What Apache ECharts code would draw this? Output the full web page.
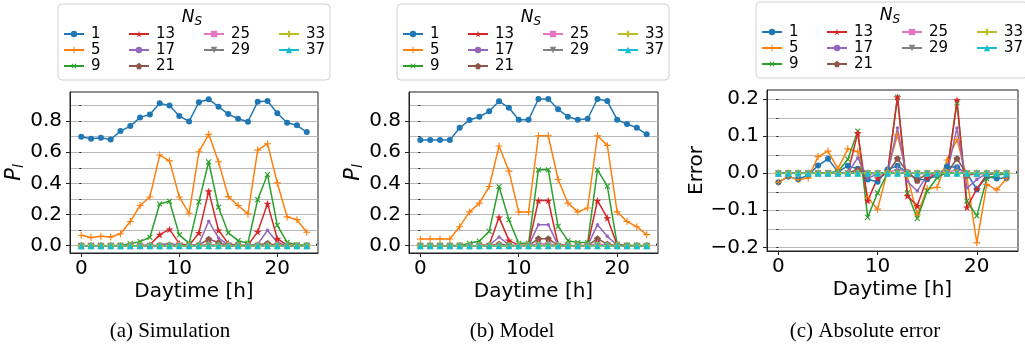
<!DOCTYPE html>
<html lang="en">
<head>
<meta charset="UTF-8">
<title>Blocking probability per daytime</title>
<style>
    html, body { margin: 0; padding: 0; background: #fff; }
    #main { width: 1025px; height: 349px; }
</style>
</head>
<body>
<div id="main"></div>
<script src="https://cdn.jsdelivr.net/npm/echarts@6/dist/echarts.min.js"></script>
<script>
    // x values (hour of the day) and the legend entries
    const hours = [0, 1, 2, 3, 4, 5, 6, 7, 8, 9, 10, 11, 12, 13, 14, 15, 16, 17, 18, 19, 20, 21, 22, 23]
    const nsLabels = ['1', '5', '9', '13', '17', '21', '25', '29', '33', '37']

    // (a) simulation
    const simNs1 = [0.700, 0.687, 0.693, 0.682, 0.736, 0.768, 0.824, 0.843, 0.914, 0.901, 0.833, 0.798, 0.921, 0.940, 0.893, 0.845, 0.815, 0.796, 0.925, 0.929, 0.850, 0.790, 0.773, 0.730]
    const simNs5 = [0.067, 0.052, 0.060, 0.056, 0.077, 0.155, 0.258, 0.313, 0.582, 0.545, 0.313, 0.208, 0.603, 0.715, 0.539, 0.315, 0.258, 0.204, 0.614, 0.655, 0.403, 0.185, 0.167, 0.086]
    const simNs9 = [0, 0, 0, 0, 0.002, 0.013, 0.026, 0.054, 0.268, 0.285, 0.069, 0.015, 0.281, 0.539, 0.247, 0.082, 0.032, 0.017, 0.296, 0.457, 0.131, 0.021, 0.006, 0.002]
    const simNs13 = [0, 0, 0, 0, 0, 0, 0.001, 0.004, 0.071, 0.105, 0.013, 0.001, 0.082, 0.350, 0.099, 0.013, 0.002, 0.002, 0.090, 0.270, 0.045, 0.004, 0, 0]
    const simNs17 = [0, 0, 0, 0, 0, 0, 0, 0, 0.005, 0.015, 0.002, 0, 0.010, 0.157, 0.050, 0.004, 0, 0, 0.010, 0.099, 0.020, 0, 0, 0]
    const simNs21 = [0, 0, 0, 0, 0, 0, 0, 0, 0, 0.003, 0, 0, 0.005, 0.042, 0.020, 0, 0, 0, 0.005, 0.015, 0.002, 0, 0, 0]
    const simNs25 = [0, 0, 0, 0, 0, 0, 0, 0, 0, 0, 0, 0, 0, 0.010, 0.002, 0, 0, 0, 0, 0.003, 0, 0, 0, 0]
    const simNs29 = [0, 0, 0, 0, 0, 0, 0, 0, 0, 0, 0, 0, 0, 0.002, 0, 0, 0, 0, 0, 0, 0, 0, 0, 0]
    const simNs33 = [0, 0, 0, 0, 0, 0, 0, 0, 0, 0, 0, 0, 0, 0, 0, 0, 0, 0, 0, 0, 0, 0, 0, 0]
    const simNs37 = [0, 0, 0, 0, 0, 0, 0, 0, 0, 0, 0, 0, 0, 0, 0, 0, 0, 0, 0, 0, 0, 0, 0, 0]

    // (b) model
    const modNs1 = [0.678, 0.678, 0.678, 0.678, 0.757, 0.807, 0.828, 0.863, 0.927, 0.886, 0.809, 0.809, 0.942, 0.942, 0.876, 0.828, 0.809, 0.815, 0.942, 0.929, 0.809, 0.781, 0.757, 0.715]
    const modNs5 = [0.043, 0.043, 0.043, 0.043, 0.122, 0.217, 0.273, 0.380, 0.640, 0.479, 0.217, 0.217, 0.706, 0.706, 0.425, 0.273, 0.217, 0.242, 0.706, 0.644, 0.217, 0.155, 0.122, 0.071]
    const modNs9 = [0, 0, 0, 0, 0.002, 0.015, 0.030, 0.092, 0.380, 0.167, 0.015, 0.015, 0.487, 0.487, 0.124, 0.032, 0.020, 0.020, 0.487, 0.382, 0.010, 0.002, 0.001, 0.001]
    const modNs13 = [0, 0, 0, 0, 0, 0, 0.001, 0.005, 0.182, 0.034, 0.002, 0.002, 0.290, 0.290, 0.006, 0.001, 0, 0.002, 0.290, 0.178, 0.005, 0, 0, 0]
    const modNs17 = [0, 0, 0, 0, 0, 0, 0, 0.001, 0.056, 0.005, 0, 0, 0.135, 0.135, 0.002, 0, 0, 0, 0.135, 0.060, 0.003, 0, 0, 0]
    const modNs21 = [0, 0, 0, 0, 0, 0, 0, 0, 0.010, 0.001, 0, 0, 0.045, 0.045, 0, 0, 0, 0, 0.045, 0.010, 0, 0, 0, 0]
    const modNs25 = [0, 0, 0, 0, 0, 0, 0, 0, 0.002, 0, 0, 0, 0.012, 0.012, 0, 0, 0, 0, 0.012, 0.002, 0, 0, 0, 0]
    const modNs29 = [0, 0, 0, 0, 0, 0, 0, 0, 0, 0, 0, 0, 0.003, 0.003, 0, 0, 0, 0, 0.003, 0, 0, 0, 0, 0]
    const modNs33 = [0, 0, 0, 0, 0, 0, 0, 0, 0, 0, 0, 0, 0, 0, 0, 0, 0, 0, 0, 0, 0, 0, 0, 0]
    const modNs37 = [0, 0, 0, 0, 0, 0, 0, 0, 0, 0, 0, 0, 0, 0, 0, 0, 0, 0, 0, 0, 0, 0, 0, 0]

    // (c) absolute error
    const errNs1 = [-0.024, -0.009, -0.016, -0.005, 0.021, 0.039, 0.004, 0.020, 0.012, -0.017, -0.023, 0.010, 0.020, 0.002, -0.017, -0.016, -0.006, 0.018, 0.016, 0, -0.043, -0.009, -0.014, -0.013]
    const errNs5 = [-0.024, -0.009, -0.017, -0.013, 0.045, 0.060, 0.012, 0.066, 0.058, -0.066, -0.097, 0.007, 0.104, -0.009, -0.112, -0.042, -0.038, 0.036, 0.091, -0.011, -0.188, -0.030, -0.045, -0.014]
    const errNs9 = [0, 0, 0, 0, 0, 0.002, 0.004, 0.038, 0.114, -0.119, -0.053, 0, 0.206, -0.053, -0.122, -0.048, -0.012, 0.003, 0.190, -0.075, -0.115, -0.015, -0.005, -0.001]
    const errNs13 = [0, 0, 0, 0, 0, 0, 0, 0.001, 0.109, -0.074, -0.013, 0.001, 0.206, -0.061, -0.088, -0.012, -0.002, 0, 0.198, -0.092, -0.042, -0.004, 0, 0]
    const errNs17 = [0, 0, 0, 0, 0, 0, 0, 0.001, 0.042, -0.013, -0.002, 0, 0.122, -0.022, -0.048, -0.004, 0, 0, 0.122, -0.040, -0.017, 0, 0, 0]
    const errNs21 = [0, 0, 0, 0, 0, 0, 0, 0, 0.010, -0.002, 0, 0, 0.040, 0.003, -0.019, 0, 0, 0, 0.040, -0.005, -0.002, 0, 0, 0]
    const errNs25 = [0, 0, 0, 0, 0, 0, 0, 0, 0.002, 0, 0, 0, 0.012, 0.002, -0.002, 0, 0, 0, 0.012, -0.001, 0, 0, 0, 0]
    const errNs29 = [0, 0, 0, 0, 0, 0, 0, 0, 0, 0, 0, 0, 0.003, 0.001, 0, 0, 0, 0, 0.003, 0, 0, 0, 0, 0]
    const errNs33 = [0, 0, 0, 0, 0, 0, 0, 0, 0, 0, 0, 0, 0, 0, 0, 0, 0, 0, 0, 0, 0, 0, 0, 0]
    const errNs37 = [0, 0, 0, 0, 0, 0, 0, 0, 0, 0, 0, 0, 0, 0, 0, 0, 0, 0, 0, 0, 0, 0, 0, 0]

    // tick labels
    const xTicks = [0, 10, 20]
    const xMinorTicks = [0, 2, 4, 6, 8, 10, 12, 14, 16, 18, 20, 22, 24]
    const pTicks = [0, 0.2, 0.4, 0.6, 0.8]
    const pMinorTicks = [0, 0.1, 0.2, 0.3, 0.4, 0.5, 0.6, 0.7, 0.8, 0.9]
    const errTicks = [-0.2, -0.1, 0, 0.1, 0.2]
    const errMinorTicks = [-0.2, -0.15, -0.1, -0.05, 0, 0.05, 0.1, 0.15, 0.2]

    const simData = [simNs1, simNs5, simNs9, simNs13, simNs17, simNs21, simNs25, simNs29, simNs33, simNs37]
    const modData = [modNs1, modNs5, modNs9, modNs13, modNs17, modNs21, modNs25, modNs29, modNs33, modNs37]
    const errData = [errNs1, errNs5, errNs9, errNs13, errNs17, errNs21, errNs25, errNs29, errNs33, errNs37]

    const colors = ['#1f77b4', '#ff7f0e', '#2ca02c', '#d62728', '#9467bd', '#8c564b', '#e377c2', '#7f7f7f', '#bcbd22', '#17becf']
    const thinPlus = 'path://M42,0H58V42H100V58H58V100H42V58H0V42H42Z'
    const markers = [
        { symbol: 'circle', size: 6 },
        { symbol: thinPlus, size: 7 },
        { symbol: thinPlus, size: 7, rotate: 45 },
        { symbol: 'path://M50,0L61,35L98,35L68,57L79,91L50,70L21,91L32,57L2,35L39,35Z', size: 8 },
        { symbol: 'circle', size: 3.5 },
        { symbol: 'path://M50,0L98,35L79,91L21,91L2,35Z', size: 7 },
        { symbol: 'path://M0,0H14V100H0Z', size: 7 },
        { symbol: 'path://M0,0L100,0L50,87Z', size: 7 },
        { symbol: 'path://M33,0H67V33H100V67H67V100H33V67H0V33H33Z', size: 7 },
        { symbol: 'triangle', size: 7 }
    ]

    const fmt = v => (v < 0 ? '\u2212' + (-v).toFixed(1) : v.toFixed(1))
    const font = 'DejaVu Sans'

    const panels = [
        {
            data: simData, grid: { left: 70, top: 92, width: 248, height: 161 },
            yMin: -0.047, yMax: 0.987, yTicks: pTicks, yMinor: pMinorTicks,
            yName: '{p|P}{s|l}', yGap: 38, box: [58, 4], caption: '(a) Simulation', capX: 170
        },
        {
            data: modData, grid: { left: 409, top: 92, width: 249, height: 161 },
            yMin: -0.047, yMax: 0.987, yTicks: pTicks, yMinor: pMinorTicks,
            yName: '{p|P}{s|l}', yGap: 38, box: [397, 4], caption: '(b) Model', capX: 512
        },
        {
            data: errData, grid: { left: 767, top: 90, width: 251, height: 161 },
            yMin: -0.21, yMax: 0.225, yTicks: errTicks, yMinor: errMinorTicks,
            yName: 'Error', yGap: 58, box: [756, 2], caption: '(c) Absolute error', capX: 865
        }
    ]

    // legend columns as in the figure: 1,5,9 | 13,17,21 | 25,29 | 33,37
    const legendCols = [[0, 1, 2], [3, 4, 5], [6, 7], [8, 9]]
    const legendColX = [5, 70, 145, 220]

    let grids = [], xAxes = [], yAxes = [], series = [], legends = [], graphics = []

    panels.forEach((p, pi) => {
        grids.push(Object.assign({ show: true, borderColor: '#222', borderWidth: 1, backgroundColor: '#fff' }, p.grid))

        xAxes.push({
            type: 'value', gridIndex: pi, min: -1.15, max: 24.15,
            axisLine: { show: true, onZero: false, lineStyle: { color: '#222' } },
            axisTick: { show: true, length: 4, customValues: xTicks, lineStyle: { color: '#222' } },
            axisLabel: { customValues: xTicks, color: '#000', fontSize: 20, fontFamily: font, margin: 6 },
            splitLine: { show: false },
            name: 'Daytime [h]', nameLocation: 'middle', nameGap: 29,
            nameTextStyle: { color: '#000', fontSize: 20, fontFamily: font }
        })
        xAxes.push({
            type: 'value', gridIndex: pi, min: -1.15, max: 24.15,
            axisLine: { show: false },
            axisTick: { show: true, length: 2, customValues: xMinorTicks, lineStyle: { color: '#222' } },
            axisLabel: { show: false },
            splitLine: { show: false }
        })

        const nameRich = {
            p: { fontFamily: font, fontStyle: 'italic', fontSize: 21, color: '#000' },
            s: { fontFamily: font, fontStyle: 'italic', fontSize: 14, color: '#000', padding: [10, 0, 0, 0] }
        }
        yAxes.push({
            type: 'value', gridIndex: pi, min: p.yMin, max: p.yMax, position: 'left',
            axisLine: { show: true, onZero: false, lineStyle: { color: '#222' } },
            axisTick: { show: true, length: 4, customValues: p.yTicks, lineStyle: { color: '#222' } },
            axisLabel: { customValues: p.yTicks, formatter: fmt, color: '#000', fontSize: 20, fontFamily: font, margin: 8 },
            splitLine: { show: false },
            name: p.yName, nameLocation: 'middle', nameGap: p.yGap, nameRotate: 90,
            nameTextStyle: { color: '#000', fontSize: 20, fontFamily: font, rich: nameRich }
        })
        yAxes.push({
            type: 'value', gridIndex: pi, min: p.yMin, max: p.yMax, position: 'left',
            axisLine: { show: false },
            axisTick: { show: true, length: 2, customValues: p.yMinor, lineStyle: { color: '#222' } },
            axisLabel: { show: false },
            splitLine: { show: true, lineStyle: { color: '#b8b8b8', width: 1 } }
        })

        p.data.forEach((vals, si) => {
            const m = markers[si]
            series.push({
                type: 'line', name: nsLabels[si],
                xAxisIndex: pi * 2, yAxisIndex: pi * 2,
                data: hours.map((h, i) => [h, vals[i]]),
                symbol: m.symbol, symbolSize: m.size, symbolRotate: m.rotate || 0, symbolKeepAspect: true,
                showSymbol: true, showAllSymbol: true,
                lineStyle: { color: colors[si], width: 1.5 },
                itemStyle: { color: colors[si] },
                emphasis: { disabled: true },
                silent: true
            })
        })

        // legend frame and its title
        const [bx, by] = p.box
        graphics.push({
            type: 'rect', z: 1,
            shape: { x: bx, y: by, width: 272, height: 76, r: 4 },
            style: { fill: '#fff', stroke: '#d0d0d0', lineWidth: 1 }
        })
        graphics.push({
            type: 'text', z: 3, x: bx + 134, y: by + 14,
            style: {
                text: '{n|N}{s|S}', align: 'center', verticalAlign: 'middle',
                rich: {
                    n: { fontFamily: font, fontStyle: 'italic', fontSize: 17, fill: '#000' },
                    s: { fontFamily: font, fontStyle: 'italic', fontSize: 12, fill: '#000', padding: [7, 0, 0, 0] }
                }
            }
        })
        legendCols.forEach((col, ci) => {
            legends.push({
                data: col.map(k => nsLabels[k]),
                orient: 'vertical', left: bx + legendColX[ci], top: by + 22,
                padding: 0, itemGap: 0, itemWidth: 20, itemHeight: 8,
                selectedMode: false, z: 5,
                textStyle: { fontFamily: font, fontSize: 15, color: '#000', lineHeight: 16, padding: [0, 0, 0, 2] }
            })
        })

        graphics.push({
            type: 'text', z: 3, x: p.capX, y: 331,
            style: { text: p.caption, align: 'center', verticalAlign: 'middle', fontFamily: 'Liberation Serif', fontSize: 21, fill: '#000' }
        })
    })

    let chart = echarts.init(document.getElementById('main'), null, { renderer: 'canvas' })
    chart.setOption({
        animation: false,
        backgroundColor: '#fff',
        grid: grids,
        xAxis: xAxes,
        yAxis: yAxes,
        legend: legends,
        graphic: graphics,
        series: series
    })
</script>
</body>
</html>
